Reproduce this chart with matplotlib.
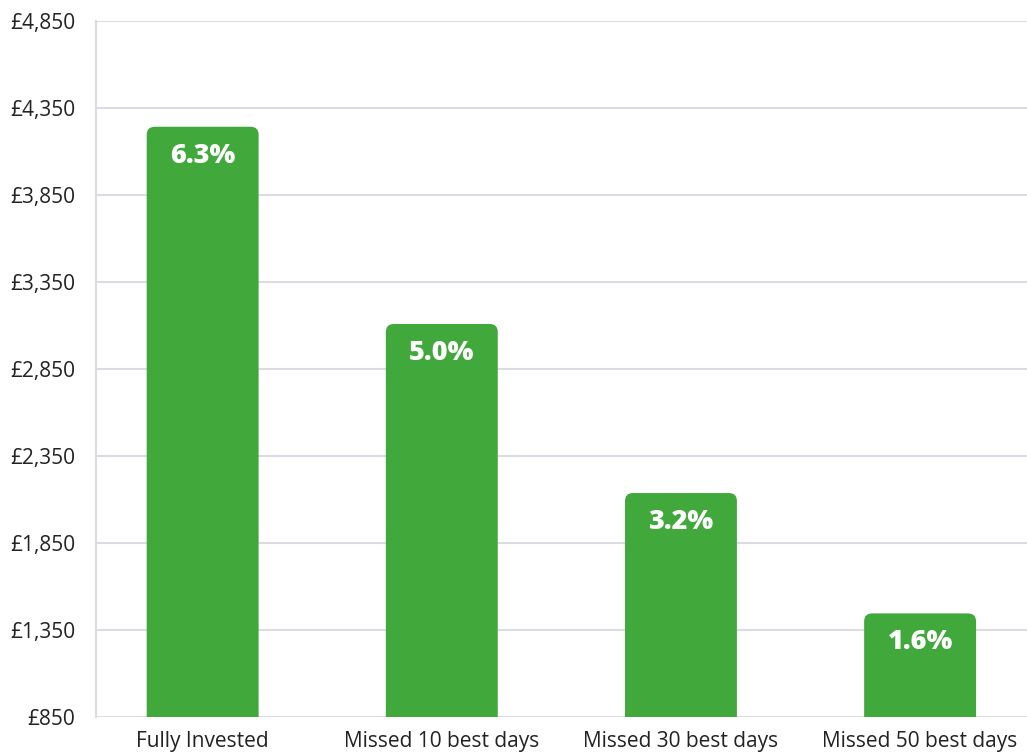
import matplotlib.pyplot as plt
from matplotlib.patches import FancyBboxPatch

plt.rcParams['font.family'] = ['Open Sans', 'DejaVu Sans']

# data
categories = ["Fully Invested", "Missed 10 best days", "Missed 30 best days", "Missed 50 best days"]
values = [4242, 3108, 2136, 1444]
returns = ["6.3%", "5.0%", "3.2%", "1.6%"]
yticks = [850, 1350, 1850, 2350, 2850, 3350, 3850, 4350, 4850]

green = "#41a83c"
grid = "#d9dce3"

fig = plt.figure(figsize=(10.27, 7.53), dpi=100)
ax = fig.add_axes([96 / 1027, 0.0482, 1 - 96 / 1027, 0.9721 - 0.0482])

x = list(range(len(categories)))
ax.set_xlim(-0.446, 3.447)
ax.set_ylim(850, 4850)

bars = ax.bar(x, values, width=0.468, color=green, zorder=3)

# swap plain bars for ones with rounded tops
px_x = (3.447 + 0.446) / 931
px_y = 4000 / 695.7
for b in bars:
    b.set_visible(False)
    r = FancyBboxPatch((b.get_x(), b.get_y()), b.get_width(), b.get_height(),
                       boxstyle="round,pad=0,rounding_size=%f" % (8 * px_x),
                       mutation_aspect=px_y / px_x,
                       facecolor=green, edgecolor="none", zorder=3)
    ax.add_patch(r)

for xi, v, lab in zip(x, values, returns):
    ax.text(xi, v - 29 * px_y, lab, ha="center", va="center",
            color="white", fontsize=19.5, fontweight="heavy", zorder=4)

ax.set_yticks(yticks)
ax.set_yticklabels(["£{:,}".format(t) for t in yticks])
ax.set_xticks(x)
ax.set_xticklabels(categories)
ax.tick_params(axis="both", length=0, labelsize=15, colors="#222222")
ax.tick_params(axis="y", pad=15)
ax.tick_params(axis="x", pad=10)

ax.grid(axis="y", color=grid, linewidth=1.5, zorder=0)
for s in ["top", "right", "bottom"]:
    ax.spines[s].set_visible(False)
ax.spines["left"].set_color(grid)
ax.spines["left"].set_linewidth(1.5)

fig.savefig("out.png", dpi=100)
